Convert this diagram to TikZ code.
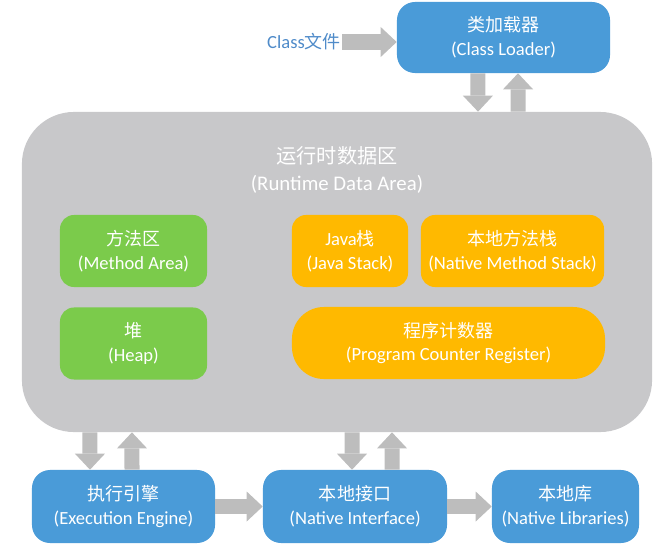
\documentclass[tikz,border=0pt]{standalone}
\usepackage{fontspec}
\setmainfont{Carlito}
\newfontfamily\cjk[Scale=0.97]{Noto Sans CJK SC}
\usetikzlibrary{arrows.meta}
\definecolor{jvmblue}{HTML}{4A9BD8}
\definecolor{jvmgreen}{HTML}{7BCB4B}
\definecolor{jvmorange}{HTML}{FFB900}
\definecolor{areagray}{HTML}{C8C8CA}
\definecolor{arrowgray}{HTML}{BDBDBD}
\definecolor{filetext}{HTML}{4F8BC9}
\tikzset{
  cardbase/.style={rounded corners=0.35cm, text=white, align=center, inner sep=0pt, font=\fontsize{13.2}{16.8}\selectfont},
  cardblue/.style={cardbase, fill=jvmblue, rounded corners=0.45cm, minimum height=1.825cm},
  cardgreen/.style={cardbase, fill=jvmgreen, minimum width=3.675cm, minimum height=1.8cm},
  cardorange/.style={cardbase, fill=jvmorange, minimum height=1.8cm},
  flow/.style={draw=arrowgray, line width=0.375cm, -{Triangle[length=0.4cm, width=0.75cm, line width=0pt]}}
}

\begin{document}
\begin{tikzpicture}[x=0.025cm,y=-0.025cm]
\useasboundingbox (0,0) rectangle (662,559);

% Class loading
\node[cardblue, minimum width=5.325cm, minimum height=1.775cm] (loader) at (503.5,37.5) {{\cjk 类加载器}\\(Class Loader)};
\node[text=filetext, inner sep=1pt, font=\fontsize{13.2}{16.8}\selectfont] (classfile) at (304,42) {Class{\cjk 文件}};
\draw[flow] (classfile.east) -- (classfile.east -| loader.west);

% Runtime data area
\node[fill=areagray, rounded corners=1.3cm, minimum width=15.75cm, minimum height=8cm] (runtime) at (337,272) {};
\node[text=white, align=center, font=\fontsize{14.8}{19.5}\selectfont] (rtitle) at (337,170) {{\cjk 运行时数据区}\\(Runtime Data Area)};
\draw[flow] ([xshift=-0.64cm]loader.south) -- ([xshift=3.525cm]runtime.north);
\draw[flow] ([xshift=4.525cm]runtime.north) -- ([xshift=0.3625cm]loader.south);

\node[cardgreen] (method) at (133.5,251) {{\cjk 方法区}\\(Method Area)};
\node[cardgreen] (heap) at (133.5,343.5) {{\cjk 堆}\\(Heap)};
\node[cardorange, minimum width=2.9cm] (jstack) at (350,251) {Java{\cjk 栈}\\(Java Stack)};
\node[cardorange, minimum width=4.575cm] (nstack) at (512.5,251) {{\cjk 本地方法栈}\\(Native Method Stack)};
\node[cardorange, minimum width=7.825cm, rounded corners=0.8cm] (pc) at (448.5,343) {{\cjk 程序计数器}\\(Program Counter Register)};

% Execution side
\node[cardblue, minimum width=4.575cm] (engine) at (123.5,506.5) {{\cjk 执行引擎}\\(Execution Engine)};
\node[cardblue, minimum width=4.6cm] (native) at (355,506.5) {{\cjk 本地接口}\\(Native Interface)};
\node[cardblue, minimum width=3.675cm] (libs) at (565.5,506.5) {{\cjk 本地库}\\(Native Libraries)};

\draw[flow] ([xshift=-6.175cm]runtime.south) -- ([xshift=-0.8375cm]engine.north);
\draw[flow] ([xshift=0.2125cm]engine.north) -- ([xshift=-5.125cm]runtime.south);
\draw[flow] ([xshift=0.375cm]runtime.south) -- ([xshift=-0.075cm]native.north);
\draw[flow] ([xshift=0.925cm]native.north) -- ([xshift=1.375cm]runtime.south);
\draw[flow] (engine.east) -- (native.west);
\draw[flow] (native.east) -- (libs.west);
\end{tikzpicture}
\end{document}
